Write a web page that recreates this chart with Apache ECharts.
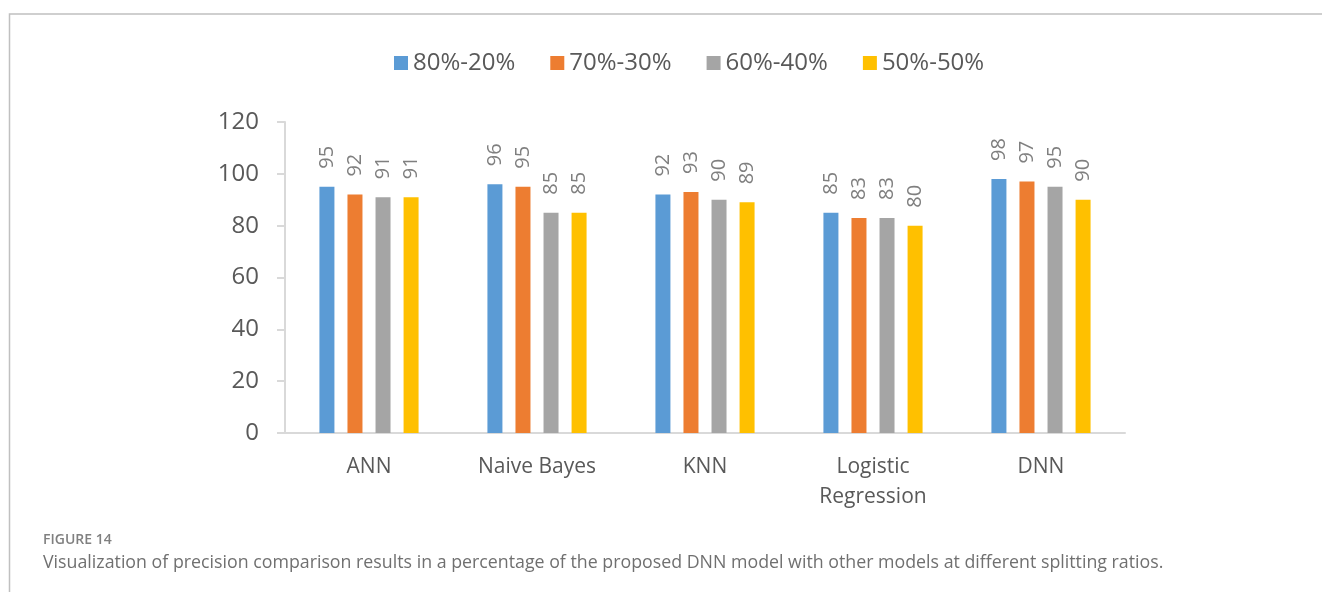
<!DOCTYPE html>
<html>
<head>
<meta charset="utf-8">
<script src="https://cdn.jsdelivr.net/npm/echarts@6/dist/echarts.min.js"></script>
<style>
  html, body { margin: 0; padding: 0; background: #fff; }
  #chart { width: 1322px; height: 592px; }
</style>
</head>
<body>
<div id="chart"></div>
<script>
const categories = ['ANN', 'Naive Bayes', 'KNN', 'Logistic\nRegression', 'DNN']
const seriesNames = ['80%-20%', '70%-30%', '60%-40%', '50%-50%']
const split8020 = [95, 96, 92, 85, 98]
const split7030 = [92, 95, 93, 83, 97]
const split6040 = [91, 85, 90, 83, 95]
const split5050 = [91, 85, 89, 80, 90]
const yTicks = { min: 0, max: 120, interval: 20 }

const colors = ['#5b9bd5', '#ed7d31', '#a5a5a5', '#ffc000']
const font = 'Open Sans'

const chart = echarts.init(document.getElementById('chart'))

const barSeries = [split8020, split7030, split6040, split5050].map((data, i) => ({
  name: seriesNames[i],
  type: 'bar',
  data,
  barWidth: 15,
  barGap: '87%',
  itemStyle: { color: colors[i] },
  label: {
    show: true,
    position: 'top',
    rotate: 90,
    align: 'left',
    verticalAlign: 'middle',
    distance: 18,
    color: '#7f7f7f',
    fontFamily: font,
    fontSize: 20
  },
  animation: false
}))

chart.setOption({
  legend: {
    top: 46,
    left: 389,
    itemWidth: 14,
    itemHeight: 14,
    itemGap: 35,
    icon: 'rect',
    textStyle: { color: '#595959', fontFamily: font, fontSize: 24 },
    data: seriesNames
  },
  grid: { left: 285, right: 197, top: 122, bottom: 159 },
  xAxis: {
    type: 'category',
    data: categories,
    axisLine: { lineStyle: { color: '#d9d9d9', width: 2 } },
    axisTick: { show: false },
    axisLabel: {
      color: '#595959',
      fontFamily: font,
      fontSize: 21,
      lineHeight: 30,
      margin: 19
    }
  },
  yAxis: {
    type: 'value',
    min: yTicks.min,
    max: yTicks.max,
    interval: yTicks.interval,
    axisLine: { show: true, lineStyle: { color: '#d9d9d9', width: 2 } },
    axisTick: { show: true, length: 8, lineStyle: { color: '#d9d9d9', width: 2 } },
    splitLine: { show: false },
    axisLabel: { color: '#595959', fontFamily: font, fontSize: 24, margin: 26 }
  },
  graphic: [
    {
      type: 'polyline',
      shape: { points: [[1322, 14], [9.5, 14], [9.5, 592]] },
      style: { stroke: '#c0c0c0', lineWidth: 1.5, fill: null }
    },
    {
      type: 'text',
      left: 43,
      top: 533,
      style: { text: 'FIGURE 14', fill: '#808080', font: '600 14px "Open Sans"' }
    },
    {
      type: 'text',
      left: 43,
      top: 554,
      style: {
        text: 'Visualization of precision comparison results in a percentage of the proposed DNN model with other models at different splitting ratios.',
        fill: '#707070',
        font: '17.8px "Open Sans"'
      }
    }
  ],
  series: barSeries
})
</script>
</body>
</html>
